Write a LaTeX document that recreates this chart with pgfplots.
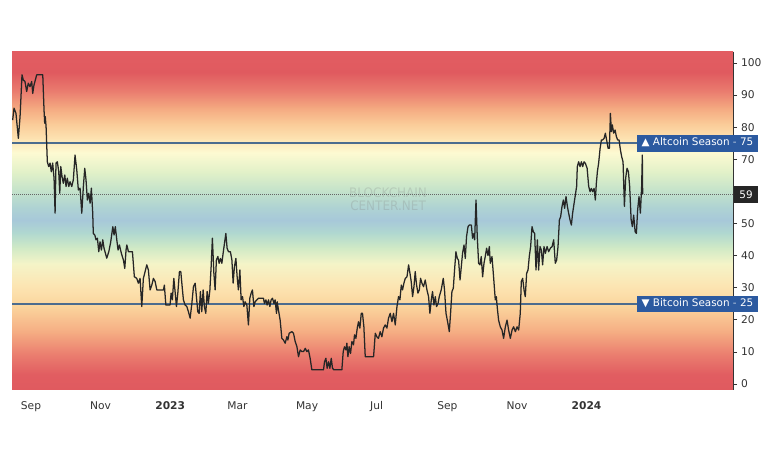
\documentclass[border=0pt]{standalone}
\usepackage{fontspec}
\setmainfont{DejaVu Sans}
\usepackage{graphicx}
\usepackage{pgfplots}
\pgfplotsset{compat=1.18}
\definecolor{cA}{HTML}{E05A5F}
\definecolor{cB}{HTML}{E15D61}
\definecolor{cC}{HTML}{EB8070}
\definecolor{cD}{HTML}{F5AC82}
\definecolor{cE}{HTML}{FBD49C}
\definecolor{cF}{HTML}{FCE6B4}
\definecolor{cG}{HTML}{F4F4C8}
\definecolor{cH}{HTML}{CFE9C6}
\definecolor{cI}{HTML}{B0D8D0}
\definecolor{cJ}{HTML}{A7C8D9}
\definecolor{cK}{HTML}{AFD3D3}
\definecolor{cL}{HTML}{C3E2CB}
\definecolor{cM}{HTML}{E2F1C8}
\definecolor{cN}{HTML}{FDFAD2}
\definecolor{cO}{HTML}{FDE2B1}
\definecolor{cP}{HTML}{FACB98}
\definecolor{cQ}{HTML}{F4A880}
\definecolor{cR}{HTML}{EA7D6F}
\definecolor{cS}{HTML}{E25D62}
\definecolor{seasonblue}{HTML}{2C5AA0}
\definecolor{seasonline}{HTML}{4C6C8E}
\definecolor{labelgray}{HTML}{333333}
\definecolor{linecol}{HTML}{262626}
\newcommand{\band}[4]{\shade[bottom color=#3,top color=#4] (axis cs:-16.67,#1) rectangle (axis cs:615.4,#2);}
\begin{document}
\begin{tikzpicture}
\useasboundingbox (0,0) rectangle (576pt,347.25pt);
\fill[white] (0,0) rectangle (576pt,347.25pt);
\begin{axis}[
  at={(9pt,54.75pt)}, anchor=south west,
  scale only axis, width=540.75pt, height=253.5pt,
  xmin=-16.67, xmax=615.4, ymin=-1.87, ymax=103.4,
  clip=false,
  axis x line*=bottom, axis y line*=right,
  axis line style={draw=none},
  xtick={0,61,122,181,242,303,365,426,487},
  xticklabels={Sep,Nov,\textbf{2023},Mar,May,Jul,Sep,Nov,\textbf{2024}},
  ytick={0,10,20,30,40,50,70,80,90,100},
  ytick pos=right, yticklabel pos=right,
  tick align=outside,
  major tick length=3pt,
  xtick style={draw=none},
  ytick style={draw=labelgray, line width=0.5pt},
  tick label style={font=\fontsize{8}{9.5}\selectfont, text=labelgray},
  /pgf/number format/assume math mode=true,
  xticklabel style={yshift=-2pt},
  yticklabel style={xshift=-0.5pt},
]
\band{-1.87}{3.1}{cA}{cB}
\band{3}{9.6}{cB}{cC}
\band{9.5}{16.1}{cC}{cD}
\band{16}{24.1}{cD}{cE}
\band{24}{31.1}{cE}{cF}
\band{31}{37.6}{cF}{cG}
\band{37.5}{42.6}{cG}{cH}
\band{42.5}{47.1}{cH}{cI}
\band{47}{51.1}{cI}{cJ}
\band{51}{55.1}{cJ}{cK}
\band{55}{60.1}{cK}{cL}
\band{60}{66.1}{cL}{cM}
\band{66}{72.1}{cM}{cN}
\band{72}{76.6}{cN}{cO}
\band{76.5}{81.1}{cO}{cP}
\band{81}{86.1}{cP}{cQ}
\band{86}{91.1}{cQ}{cR}
\band{91}{97.1}{cR}{cA}
\band{97}{103.4}{cA}{cS}
\draw[labelgray, line width=0.6pt] (rel axis cs:1,0) -- (rel axis cs:1,1);
\node[font=\fontsize{9.8}{10}\selectfont, align=center, text=black!50, text opacity=0.25, inner sep=0pt]
  at (axis cs:313,57.6) {\scalebox{0.92}[1]{BLOCKCHAIN}\\\scalebox{0.92}[1]{CENTER.NET}};
\addplot[seasonline, line width=1.3pt, forget plot] coordinates {(-16.67,75) (615.4,75)};
\addplot[seasonline, line width=1.3pt, forget plot] coordinates {(-16.67,25) (615.4,25)};
\addplot[black!60, line width=0.5pt, dash pattern=on 0.75pt off 0.75pt, forget plot] coordinates {(-16.67,59) (615.4,59)};
\addplot[linecol, line width=0.95pt, line join=round, mark=none] coordinates {
(-16.1,82.2) (-14.9,85.9) (-13.2,84.3) (-11.1,76.5) (-9.6,83.3) (-7.9,96.3) (-6.8,94.7) (-5.3,94.2)
(-3.8,91.1) (-2.4,93.7) (-0.9,92.6) (0.6,94.2) (1.5,90.5) (2.6,93.1) (3.8,94.7) (5.0,96.3) (10.3,96.3)
(11.4,85.4) (12.0,81.2) (12.5,83.3) (13.2,80.2) (14.3,69.2) (15.5,67.7) (16.7,68.8) (17.8,66.1)
(19.0,68.8) (20.2,64.1) (21.1,53.2) (21.9,68.8) (23.1,69.2) (24.3,66.1) (25.2,59.4) (26.1,67.7)
(27.2,64.6) (28.3,62.5) (29.6,65.1) (30.7,61.5) (31.8,64.1) (33.1,61.5) (34.2,63.0) (35.7,61.5)
(37.1,63.6) (38.6,71.3) (40.1,66.7) (41.5,60.4) (43.0,61.0) (44.5,53.2) (45.9,61.5) (47.1,67.2)
(48.2,63.6) (49.4,57.3) (50.6,59.4) (51.8,56.3) (52.9,61.0) (54.1,53.2) (54.6,46.9) (55.9,46.4)
(57.0,44.9) (58.2,45.4) (59.4,41.2) (60.5,44.3) (61.7,41.7) (62.9,44.9) (64.0,42.3) (66.4,39.2)
(68.2,41.2) (69.9,44.3) (71.7,49.0) (72.8,46.4) (73.9,49.0) (75.2,44.9) (76.3,41.7) (77.5,43.3)
(79.2,40.7) (81.0,38.6) (82.2,36.0) (83.3,41.7) (84.0,43.3) (85.4,41.2) (86.8,41.2) (88.9,41.2)
(90.6,33.4) (92.7,32.9) (94.1,31.4) (95.6,32.9) (97.1,24.1) (98.5,32.9) (100.0,35.0) (101.5,37.1)
(102.9,35.5) (104.4,29.3) (105.9,30.8) (107.3,32.9) (108.8,31.9) (110.3,29.3) (116.1,29.3)
(116.9,30.8) (118.2,24.6) (121.9,24.6) (122.8,28.3) (123.9,26.2) (125.2,32.9) (126.3,28.8)
(127.5,24.1) (128.7,28.3) (130.1,35.0) (131.3,35.0) (132.5,30.3) (133.6,26.2) (135.1,24.6)
(136.6,24.1) (138.0,22.5) (139.5,20.5) (141.0,25.1) (142.4,30.3) (143.9,31.4) (145.0,27.2)
(146.2,22.5) (147.4,22.0) (148.5,28.8) (149.7,22.5) (150.9,29.3) (152.0,24.1) (153.2,22.0)
(154.4,28.8) (155.5,25.1) (156.8,29.3) (157.9,36.5) (159.0,45.4) (160.3,34.5) (161.4,29.3)
(162.5,38.6) (163.8,39.7) (164.9,37.6) (166.1,39.1) (167.3,37.6) (168.4,40.7) (169.6,43.8)
(170.8,46.9) (171.9,42.3) (173.1,41.2) (174.8,41.2) (176.1,38.6) (177.2,31.4) (178.3,36.5)
(179.6,39.1) (180.7,33.4) (181.8,29.3) (183.1,35.5) (184.2,26.2) (185.4,27.2) (186.6,24.1)
(187.7,25.6) (189.2,24.6) (190.6,18.4) (191.8,26.7) (193.0,28.3) (194.1,29.3) (195.4,24.1)
(196.5,25.6) (198.0,26.2) (199.4,26.7) (203.8,26.7) (204.6,25.1) (205.9,26.2) (207.0,24.6)
(208.2,26.2) (209.4,24.1) (210.5,26.2) (211.7,26.7) (212.9,25.1) (214.0,26.2) (215.2,22.0)
(215.8,25.6) (216.9,23.1) (218.4,19.9) (219.9,14.2) (221.3,13.7) (222.8,12.7) (224.3,14.7)
(225.2,13.7) (226.3,15.8) (228.7,16.3) (230.1,15.8) (231.6,13.2) (233.1,11.6) (234.5,8.5)
(236.0,10.6) (237.5,10.1) (238.9,10.1) (240.4,11.1) (241.8,10.1) (243.2,10.6) (244.7,8.0)
(246.2,4.4) (256.4,4.4) (257.3,6.9) (258.5,8.0) (259.6,4.9) (260.8,6.9) (262.0,4.9) (263.2,8.0)
(264.3,4.9) (265.5,4.4) (272.5,4.4) (273.7,10.1) (274.8,11.6) (276.1,10.6) (276.9,12.7) (277.8,8.5)
(278.9,11.6) (280.1,9.5) (281.3,13.2) (282.7,12.2) (283.6,15.3) (284.8,14.2) (286.0,17.4)
(287.1,19.4) (288.3,17.4) (289.5,22.0) (290.6,22.0) (291.8,17.8) (293.0,8.5) (300.3,8.5)
(301.8,15.8) (303.2,14.7) (304.6,14.2) (306.1,16.3) (307.6,14.7) (309.0,17.4) (310.5,18.4)
(312.0,17.4) (313.4,20.5) (314.9,22.0) (316.4,19.4) (317.8,22.0) (319.3,18.4) (320.8,24.1)
(322.2,27.2) (323.4,26.2) (324.6,30.8) (325.7,29.3) (326.9,31.4) (328.1,32.9) (329.6,33.4)
(331.0,37.1) (332.2,34.5) (333.3,31.9) (334.5,27.2) (335.7,30.3) (336.8,35.0) (338.0,30.8)
(339.2,28.3) (340.4,29.3) (341.5,32.9) (342.7,31.4) (344.1,30.3) (345.6,32.4) (347.1,29.3)
(348.5,27.2) (349.7,22.0) (350.9,26.2) (352.0,28.8) (353.2,24.6) (354.4,27.2) (355.5,24.1)
(356.8,25.1) (357.9,27.2) (359.6,29.3) (361.4,32.9) (362.5,29.3) (363.8,22.0) (365.2,19.4)
(366.7,16.3) (367.8,22.0) (369.0,28.8) (370.2,29.8) (371.3,35.5) (372.5,41.2) (373.7,39.1)
(374.8,38.6) (376.1,32.4) (377.2,36.5) (378.3,40.7) (379.6,43.3) (380.7,39.1) (381.8,45.9)
(383.1,49.0) (384.2,49.5) (386.0,49.5) (387.1,45.4) (388.3,46.9) (388.9,44.9) (390.1,57.3)
(391.2,45.9) (392.4,37.6) (393.6,37.1) (394.7,39.7) (395.9,33.4) (397.1,37.6) (398.2,39.7)
(399.4,42.3) (400.6,40.0) (401.8,42.8) (402.6,37.6) (404.1,39.7) (405.5,33.4) (407.0,26.2)
(407.9,27.2) (408.8,23.6) (409.9,19.9) (411.4,17.8) (412.9,16.8) (414.3,14.2) (415.8,17.8)
(417.3,19.9) (418.7,16.8) (420.2,14.2) (421.7,16.8) (423.1,17.8) (424.6,16.3) (426.1,17.8)
(427.5,16.8) (428.9,22.0) (429.8,31.9) (431.0,32.9) (432.2,29.3) (433.3,27.2) (434.5,34.5)
(435.7,35.5) (436.8,39.7) (438.0,42.8) (439.2,49.0) (440.4,47.4) (441.5,46.9) (442.7,35.5)
(443.9,44.9) (445.0,35.5) (446.2,42.8) (447.4,41.7) (448.5,37.1) (449.7,42.8) (450.9,40.7)
(452.4,42.8) (453.8,41.2) (455.3,42.3) (456.8,42.8) (458.2,44.9) (459.6,37.6) (460.8,38.6)
(462.0,42.8) (463.2,51.1) (464.3,52.1) (465.5,55.3) (466.7,57.3) (467.8,54.7) (469.0,58.4)
(470.2,55.3) (471.3,53.2) (472.5,51.1) (473.7,49.5) (474.8,53.2) (476.1,56.3) (477.2,58.9)
(478.3,61.5) (478.9,67.7) (480.1,69.2) (481.3,67.7) (482.5,69.2) (483.6,67.7) (484.8,69.2)
(486.0,68.7) (487.5,67.2) (488.9,61.5) (490.1,59.9) (491.2,60.9) (492.4,59.9) (493.6,60.9)
(494.7,57.3) (495.6,62.5) (496.5,66.1) (497.6,68.8) (498.9,73.4) (500.0,76.0) (501.1,76.0)
(502.4,76.5) (503.5,78.1) (504.6,76.0) (505.9,73.4) (507.0,73.4) (507.6,80.2) (507.9,84.3)
(508.8,78.6) (509.6,80.7) (510.8,78.1) (512.0,79.1) (513.2,77.0) (514.3,76.0) (515.5,76.0)
(516.7,72.9) (517.8,70.8) (519.0,69.2) (520.2,55.3) (521.3,64.1) (522.5,67.2) (523.7,66.1)
(524.8,61.5) (526.1,51.1) (527.2,49.0) (528.3,52.6) (529.6,47.4) (530.7,46.9) (531.8,54.2)
(533.0,58.4) (534.2,53.2) (535.3,61.5) (535.9,71.3) (536.2,59.1)
};
\node[anchor=east, fill=seasonblue, text=white, font=\fontsize{7.8}{9}\selectfont,
  minimum height=12.75pt, inner ysep=0pt, inner xsep=3.6pt]
  at ([xshift=19pt]axis cs:615.4,75) {\strut▲ Altcoin Season \textcolor{white!70!seasonblue}{-} 75};
\node[anchor=east, fill=seasonblue, text=white, font=\fontsize{7.8}{9}\selectfont,
  minimum height=12pt, inner ysep=0pt, inner xsep=3.6pt]
  at ([xshift=19pt]axis cs:615.4,25) {\strut▼ Bitcoin Season \textcolor{white!70!seasonblue}{-} 25};
\node[anchor=east, fill=black!85, text=white, font=\fontsize{7.8}{9}\selectfont,
  minimum height=12.5pt, minimum width=18pt, inner ysep=0pt, inner xsep=2pt]
  at ([xshift=19pt]axis cs:615.4,59) {59};
\end{axis}
\end{tikzpicture}
\end{document}
